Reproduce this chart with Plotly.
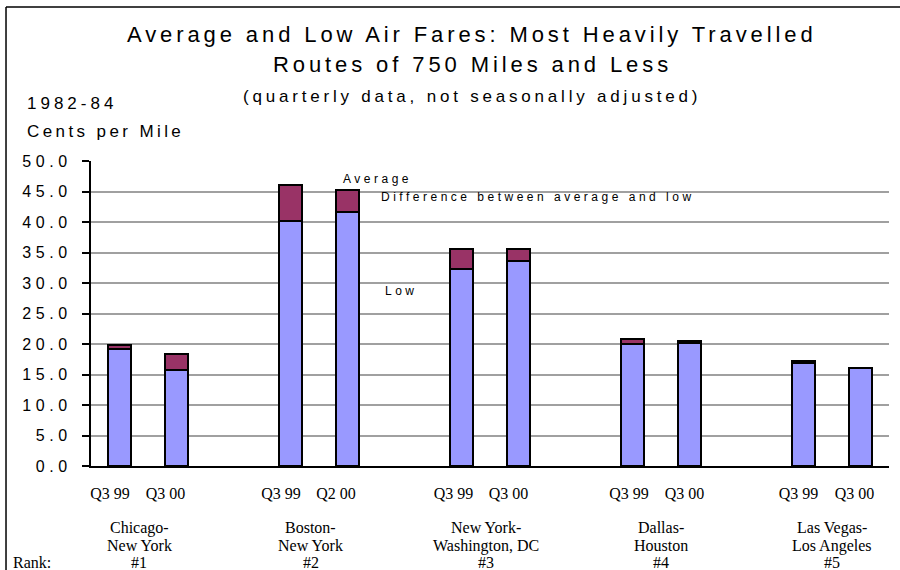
import plotly.graph_objects as go

# ---- data ----
route_line1 = ["Chicago-", "Boston-", "New York-", "Dallas-", "Las Vegas-"]
route_line2 = ["New York", "New York", "Washington, DC", "Houston", "Los Angeles"]
ranks = ["#1", "#2", "#3", "#4", "#5"]
quarters = ["Q3 99", "Q3 00", "Q3 99", "Q2 00", "Q3 99", "Q3 00", "Q3 99", "Q3 00", "Q3 99", "Q3 00"]
low_fare = [19.1, 15.7, 40.2, 41.6, 32.3, 33.6, 20.0, 20.1, 16.9, 16.0]
average_fare = [19.9, 18.4, 46.0, 45.2, 35.5, 35.5, 20.8, 20.5, 17.2, 16.1]
y_ticks = [0, 5, 10, 15, 20, 25, 30, 35, 40, 45, 50]

# ---- layout helpers (label nudges in pixels, as placed in the original) ----
tick_nudge_px = [-9.5, -11, -9.5, -11.5, -8, -10, -3.5, -5, -5, -6]
route_nudge_px = [-9, -8.5, -4.5, 0, 0]
SLOT_PX = 57.0

diff = [round(a - l, 2) for a, l in zip(average_fare, low_fare)]
# two bars per route, one empty slot between routes
xpos = [(i // 2) * 3 + (i % 2) for i in range(len(quarters))]
tickpos = [x + n / SLOT_PX for x, n in zip(xpos, tick_nudge_px)]

SANS = "Liberation Sans, Arial, sans-serif"
SERIF = "Liberation Serif, Times New Roman, serif"


def sp(text, px):
    return f'<span style="letter-spacing:{px}px">{text}</span>'


fig = go.Figure()
fig.add_trace(go.Bar(x=xpos, y=low_fare, name="Low", width=0.42,
                     marker=dict(color="#9999FF", line=dict(color="black", width=2))))
fig.add_trace(go.Bar(x=xpos, y=diff, name="Difference between average and low", width=0.42,
                     marker=dict(color="#993366", line=dict(color="black", width=2))))

fig.update_layout(
    barmode="stack",
    width=900, height=570,
    margin=dict(l=91, r=11, t=161, b=104),
    paper_bgcolor="white", plot_bgcolor="white",
    showlegend=False,
    font=dict(family=SANS, color="black"),
)
fig.update_xaxes(range=[-0.5, 13.5], tickvals=tickpos, ticktext=quarters,
                 tickfont=dict(family=SERIF, size=16, color="black"),
                 showgrid=False, showline=True, linecolor="black", linewidth=2,
                 ticks="", ticklabelstandoff=12, zeroline=False)
fig.update_yaxes(range=[0, 50], tickvals=y_ticks,
                 ticktext=[sp(f"{v:.1f}", 4.6) for v in y_ticks],
                 tickfont=dict(family=SANS, size=16, color="black"),
                 showgrid=True, gridcolor="#A0A0A0", gridwidth=1.5,
                 showline=True, linecolor="black", linewidth=2,
                 ticks="outside", ticklen=7, tickwidth=2, tickcolor="black",
                 ticklabelstandoff=7, zeroline=False)


def note(text, x, y, xref="paper", yref="paper", xanchor="center", size=16, family=SANS):
    return dict(text=text, x=x, y=y, xref=xref, yref=yref, xanchor=xanchor, yanchor="middle",
                showarrow=False, font=dict(size=size, family=family, color="black"))


ann = []
ann.append(note(sp("Average and Low Air Fares: Most Heavily Travelled", 3.9), 0.478, 1.416, size=22))
ann.append(note(sp("Routes of 750 Miles and Less", 3.9), 0.478, 1.315, size=22))
ann.append(note(sp("(quarterly data, not seasonally adjusted)", 3.8), 0.478, 1.213, size=17))
ann.append(note(sp("1982-84", 4), -0.083, 1.187, xanchor="left", size=17))
ann.append(note(sp("Cents per Mile", 3.4), -0.083, 1.098, xanchor="left", size=17))
ann.append(note(sp("Average", 3.5), 3.886, 47.05, xref="x", yref="y", xanchor="left", size=12))
ann.append(note(sp("Difference between average and low", 3.5), 4.55, 44.1, xref="x", yref="y",
                xanchor="left", size=12))
ann.append(note(sp("Low", 3.5), 4.62, 28.7, xref="x", yref="y", xanchor="left", size=12))
for g in range(len(route_line1)):
    cx = g * 3 + 0.5 + route_nudge_px[g] / SLOT_PX
    for txt, yy in ((route_line1[g], -0.203), (route_line2[g], -0.262), (ranks[g], -0.318)):
        ann.append(note(txt, cx, yy, xref="x", family=SERIF))
ann.append(note("Rank:", -0.1, -0.318, xanchor="left", family=SERIF))
fig.update_layout(annotations=ann)

# outer frame (left and top edges visible)
fig.add_shape(type="line", xref="paper", yref="paper", x0=-0.1065, x1=-0.1065, y0=1.505, y1=-0.4,
              line=dict(color="black", width=1.5))
fig.add_shape(type="line", xref="paper", yref="paper", x0=-0.1065, x1=1.03, y0=1.505, y1=1.505,
              line=dict(color="black", width=1.5))

fig.write_html("out.html", config={"displayModeBar": False},
               post_script="document.body.style.margin='0px';")
